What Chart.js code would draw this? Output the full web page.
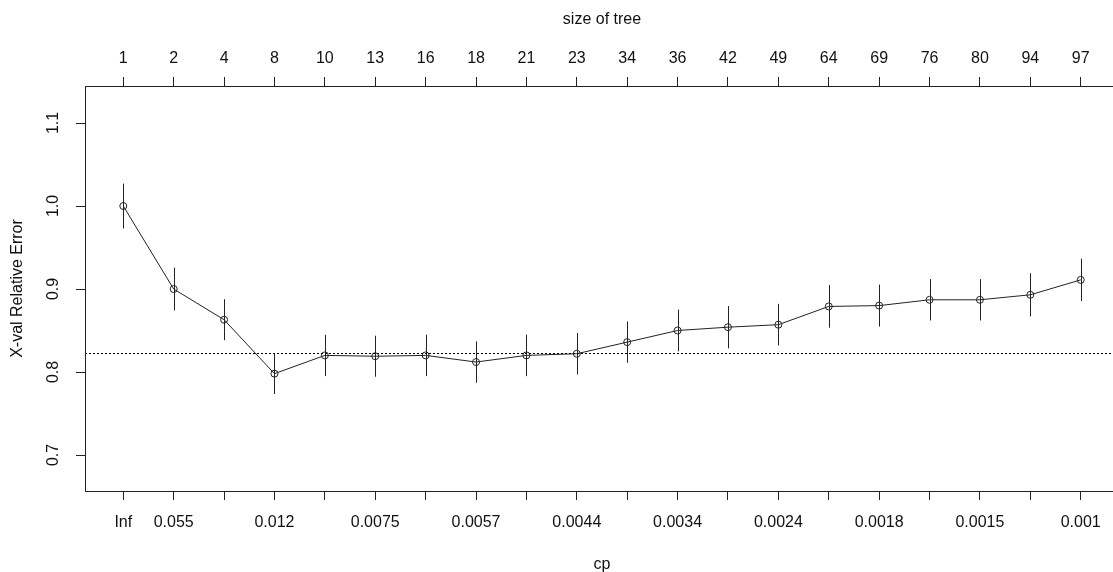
<!DOCTYPE html>
<html>
<head>
<meta charset="utf-8">
<script src="https://cdn.jsdelivr.net/npm/chart.js@4.4.1/dist/chart.umd.min.js"></script>
<style>
  html, body { margin: 0; padding: 0; background: #fff; overflow: hidden; width: 1113px; height: 572px; }
  #wrap { width: 1130px; height: 572px; }
</style>
</head>
<body>
<div id="wrap"><canvas id="c" width="1130" height="572"></canvas></div>
<script>
// ---- data ----
const treeSizes = [1, 2, 4, 8, 10, 13, 16, 18, 21, 23, 34, 36, 42, 49, 64, 69, 76, 80, 94, 97];
const cpLabels = ['Inf', '0.055', '', '0.012', '', '0.0075', '', '0.0057', '', '0.0044', '', '0.0034', '', '0.0024', '', '0.0018', '', '0.0015', '', '0.001'];
const xError = [1.000, 0.900, 0.863, 0.798, 0.820, 0.819, 0.820, 0.812, 0.820, 0.822, 0.836, 0.850, 0.854, 0.857, 0.879, 0.880, 0.887, 0.887, 0.893, 0.911];
const xStd = [0.027, 0.0257, 0.0247, 0.0245, 0.0249, 0.0247, 0.025, 0.0249, 0.025, 0.025, 0.0249, 0.0251, 0.0255, 0.0251, 0.0257, 0.0253, 0.0249, 0.0249, 0.026, 0.0255];
const yTicks = [0.7, 0.8, 0.9, 1.0, 1.1];

const minIdx = xError.indexOf(Math.min(...xError));
const threshold = xError[minIdx] + xStd[minIdx];

const FONT = "'Liberation Sans', Arial, sans-serif";
const INK = '#222';

const idx = treeSizes.map((_, i) => i);
const points = xError.map((v, i) => ({ x: i, y: v }));

const extrasPlugin = {
  id: 'extras',
  afterDatasetsDraw(chart) {
    const { ctx, chartArea: a, scales: { x, y } } = chart;
    ctx.save();
    // error bars
    ctx.strokeStyle = INK;
    ctx.lineWidth = 1;
    xError.forEach((v, i) => {
      const px = Math.round(x.getPixelForValue(i)) + 0.5;
      ctx.beginPath();
      ctx.moveTo(px, y.getPixelForValue(v + xStd[i]));
      ctx.lineTo(px, y.getPixelForValue(v - xStd[i]));
      ctx.stroke();
    });
    // dotted threshold line
    const ty = Math.round(y.getPixelForValue(threshold)) + 0.5;
    ctx.setLineDash([2, 2]);
    ctx.strokeStyle = '#000';
    ctx.beginPath();
    ctx.moveTo(a.left, ty);
    ctx.lineTo(a.right, ty);
    ctx.stroke();
    ctx.restore();
  },
  afterDraw(chart) {
    const { ctx, chartArea: a } = chart;
    ctx.save();
    ctx.strokeStyle = INK;
    ctx.lineWidth = 1;
    ctx.strokeRect(Math.round(a.left) + 0.5, Math.round(a.top) + 0.5, Math.round(a.right - a.left), Math.round(a.bottom - a.top));
    ctx.restore();
  }
};

new Chart(document.getElementById('c'), {
  type: 'line',
  data: {
    datasets: [{
      data: points,
      borderColor: INK,
      borderWidth: 1,
      pointStyle: 'circle',
      pointRadius: 3.5,
      pointBorderWidth: 1,
      pointBorderColor: INK,
      pointBackgroundColor: 'rgba(0,0,0,0)',
      tension: 0,
      fill: false
    }]
  },
  options: {
    responsive: false,
    animation: false,
    devicePixelRatio: 1,
    layout: { padding: { left: 0, right: 11, top: 0, bottom: 0 } },
    plugins: { legend: { display: false }, tooltip: { enabled: false } },
    scales: {
      x: {
        type: 'linear', position: 'bottom', min: -0.76, max: 19.76,
        afterBuildTicks: s => { s.ticks = idx.map(v => ({ value: v })); },
        afterFit: s => { s.height = 81; },
        ticks: {
          autoSkip: false, maxRotation: 0, minRotation: 0, padding: 13,
          color: '#111', font: { family: FONT, size: 16 },
          callback: v => cpLabels[v]
        },
        grid: { drawOnChartArea: false, drawTicks: true, tickLength: 9, tickColor: INK, tickWidth: 1 },
        border: { display: false },
        title: { display: true, text: 'cp', color: '#111', font: { family: FONT, size: 16 }, padding: { top: 0, bottom: -2 } }
      },
      x2: {
        type: 'linear', position: 'top', min: -0.76, max: 19.76,
        afterBuildTicks: s => { s.ticks = idx.map(v => ({ value: v })); },
        afterFit: s => { s.height = 86; },
        ticks: {
          autoSkip: false, maxRotation: 0, minRotation: 0, padding: 9,
          color: '#111', font: { family: FONT, size: 16 },
          callback: v => String(treeSizes[v])
        },
        grid: { drawOnChartArea: false, drawTicks: true, tickLength: 9, tickColor: INK, tickWidth: 1 },
        border: { display: false },
        title: { display: true, text: 'size of tree', color: '#111', font: { family: FONT, size: 16 }, padding: { top: 10, bottom: 0 } }
      },
      y: {
        type: 'linear', position: 'left', min: 0.65663, max: 1.14458,
        afterBuildTicks: s => { s.ticks = yTicks.map(v => ({ value: v })); },
        afterFit: s => { s.width = 85; },
        ticks: {
          minRotation: 90, maxRotation: 90, crossAlign: 'center', padding: 11,
          color: '#111', font: { family: FONT, size: 16 },
          callback: v => v.toFixed(1)
        },
        grid: { drawOnChartArea: false, drawTicks: true, tickLength: 9, tickColor: INK, tickWidth: 1 },
        border: { display: false },
        title: { display: true, text: 'X-val Relative Error', color: '#111', font: { family: FONT, size: 16 }, padding: { top: 8, bottom: 0 } }
      }
    }
  },
  plugins: [extrasPlugin]
});
</script>
</body>
</html>
